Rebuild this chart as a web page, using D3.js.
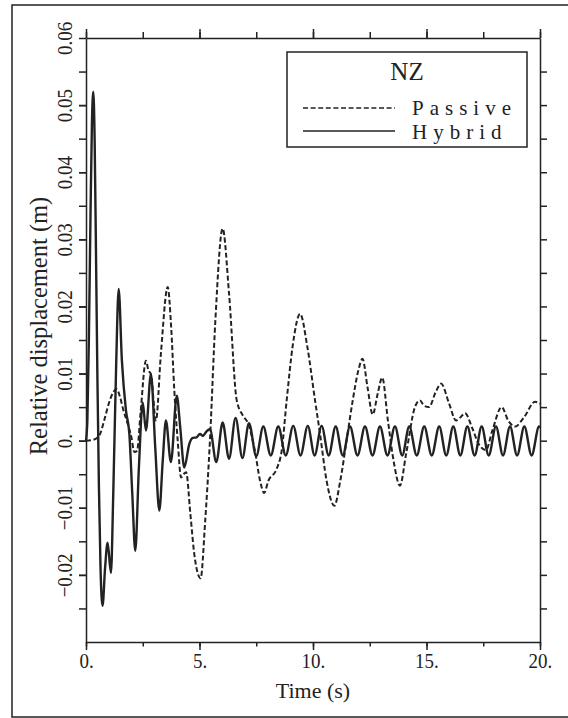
<!DOCTYPE html>
<html>
<head>
<meta charset="utf-8">
<script src="https://cdn.jsdelivr.net/npm/d3@7"></script>
<style>
  body { margin: 0; background: #fff; }
  svg { display: block; }
  text { font-family: "Liberation Serif", "Times New Roman", serif; fill: #222; }
</style>
</head>
<body>
<div id="chart"></div>
<script>
//-----------------------------------------------------------------------
// data

var hybridT = [0, 0.06, 0.13, 0.2, 0.26, 0.32, 0.38, 0.44, 0.5, 0.57, 0.64, 0.73, 0.84, 0.95, 1.1,
  1.2, 1.32, 1.44, 1.58, 1.76, 1.91, 2.04, 2.17, 2.33, 2.5, 2.64, 2.86, 3.05, 3.23, 3.38, 3.52,
  3.74, 4.0, 4.15, 4.33, 4.55, 4.7, 4.87, 5.02, 5.15, 5.31, 5.46,
  5.74, 6.02, 6.3, 6.59, 6.89, 7.18, 7.5, 7.81, 8.14, 8.47, 8.8, 9.13, 9.45, 9.77, 10.07, 10.38,
  10.69, 11.0, 11.31, 11.63, 11.96, 12.29, 12.62, 12.95, 13.28, 13.61, 13.93, 14.24, 14.57, 14.9,
  15.23, 15.56, 15.87, 16.18, 16.49, 16.8, 17.12, 17.43, 17.74, 18.06, 18.37, 18.68, 18.99, 19.31,
  19.63, 19.96, 20];
var hybridV = [0, 0.003, 0.016, 0.034, 0.047, 0.052, 0.045, 0.028, 0.01, -0.007, -0.019, -0.0246, -0.019, -0.0152, -0.0197,
  -0.008, 0.01, 0.0226, 0.012, 0.0045, 0.001, -0.008, -0.0164, -0.004, 0.0057, 0.0015, 0.00995, -0.001, -0.0104, -0.003, 0.003,
  -0.0032, 0.0067, 0.002, -0.004, -0.0005, 0.0004, 0.0005, 0.001, 0.0007, 0.0014, 0.0017,
  -0.0032, 0.0027, -0.0027, 0.0034, -0.0026, 0.0026, -0.0023, 0.0021, -0.0022, 0.0021, -0.0022, 0.0022, -0.0022, 0.0022, -0.0022, 0.0022,
  -0.0022, 0.0021, -0.0022, 0.0021, -0.0022, 0.0021, -0.0022, 0.0021, -0.0022, 0.0021, -0.0022, 0.0021, -0.0022, 0.0021,
  -0.0022, 0.0021, -0.0022, 0.0021, -0.0022, 0.0021, -0.0022, 0.0021, -0.0022, 0.0021, -0.0022, 0.0021, -0.0022, 0.0021,
  -0.0022, 0.0021, 0.0019];

var passiveT = [0, 0.3, 0.59, 0.8, 1.0, 1.2, 1.35, 1.5, 1.65, 1.84, 2.0, 2.13, 2.25, 2.4, 2.64, 2.75,
  2.86, 3.08, 3.3, 3.6, 3.75, 3.89, 4.04, 4.19, 4.3, 4.41, 4.6, 4.77, 5.05, 5.25, 5.46, 5.7, 6.02,
  6.3, 6.64, 6.9, 7.15, 7.44, 7.67, 7.85, 8.03, 8.4, 8.62, 8.84, 9.1, 9.43, 9.75, 10.09, 10.31,
  10.6, 10.94, 11.2, 11.5, 11.75, 12.0, 12.18, 12.4, 12.63, 12.85, 13.05, 13.3, 13.55, 13.83,
  14.1, 14.49, 14.71, 14.9, 15.11, 15.4, 15.64, 16.0, 16.3, 16.5, 16.7, 17.0, 17.3, 17.62, 17.9,
  18.31, 18.6, 18.9, 19.3, 19.78, 20];
var passiveV = [0, 0.0001, 0.0008, 0.003, 0.0055, 0.0072, 0.0077, 0.0065, 0.0045, 0.0025, 0.0005, -0.0017, -0.0015, 0.004, 0.0119, 0.0105,
  0.0099, 0.003, 0.013, 0.0229, 0.017, 0.0075, 0.0, -0.0055, -0.005, -0.0047, -0.011, -0.0169, -0.0205, -0.012, 0.0, 0.018, 0.0316,
  0.022, 0.006, 0.0038, 0.0025, -0.0015, -0.006, -0.0078, -0.006, -0.0042, -0.0015, 0.006, 0.014, 0.0189, 0.014, 0.006, 0.001,
  -0.006, -0.0097, -0.006, 0.0005, 0.006, 0.0105, 0.0122, 0.008, 0.0039, 0.007, 0.0094, 0.003, -0.003, -0.0067,
  -0.002, 0.005, 0.006, 0.0052, 0.005, 0.0072, 0.0085, 0.0055, 0.003, 0.0035, 0.0041, 0.002, -0.0005, -0.0014, 0.0015,
  0.005, 0.003, 0.0021, 0.0035, 0.0058, 0.0055];

var xMajor = [0, 5, 10, 15, 20];
var xMinor = [0, 2.5, 5, 7.5, 10, 12.5, 15, 17.5, 20];
var yMajor = [-0.02, -0.01, 0, 0.01, 0.02, 0.03, 0.04, 0.05, 0.06];
var yMinor = [-0.025, -0.02, -0.015, -0.01, -0.005, 0, 0.005, 0.01, 0.015, 0.02, 0.025, 0.03, 0.035, 0.04, 0.045, 0.05, 0.055];

var legendTitle = "NZ";
var seriesNames = ["Passive", "Hybrid"];

//-----------------------------------------------------------------------

var W = 568, H = 718;
var plotL = 86, plotR = 540, plotT = 38, plotB = 642;
var ink = "#222";

var svg = d3.select("#chart").append("svg").attr("width", W).attr("height", H);

// outer frame (right side runs off the page)
svg.append("rect")
  .attr("x", 12).attr("y", 5).attr("width", 600).attr("height", 712)
  .attr("fill", "none").attr("stroke", ink).attr("stroke-width", 1.5);

var x = d3.scaleLinear().domain([0, 20]).range([plotL, plotR]);
var y = d3.scaleLinear().domain([-0.03, 0.06]).range([plotB, plotT]);

function fmt(d)
{
  if (d === 0) return "0.";
  if (Number.isInteger(d)) return d + ".";
  return d3.format(".2f")(d);
}

function styleAxis(g)
{
  g.selectAll("path, line").attr("stroke", ink).attr("stroke-width", 1.5);
  g.selectAll("text").style("font-size", "19px").attr("fill", ink);
}

// bottom axis
svg.append("g").attr("transform", "translate(0," + plotB + ")")
  .call(d3.axisBottom(x).tickValues(xMinor).tickSize(4.5).tickSizeOuter(0).tickFormat(""))
  .call(styleAxis);
svg.append("g").attr("transform", "translate(0," + plotB + ")")
  .call(d3.axisBottom(x).tickValues(xMajor).tickSize(8).tickSizeOuter(0).tickFormat(fmt).tickPadding(8))
  .call(styleAxis)
  .call(function (g) {
    g.select(".domain").remove();
    // glyphs in the scan are a bit taller than wide
    g.selectAll("text").attr("dy", 0).attr("y", 0)
      .attr("transform", "translate(0,26) scale(1,1.15)");
  });

// top axis
svg.append("g").attr("transform", "translate(0," + plotT + ")")
  .call(d3.axisTop(x).tickValues(xMinor).tickSize(6).tickSizeOuter(0).tickFormat(""))
  .call(styleAxis);
svg.append("g").attr("transform", "translate(0," + plotT + ")")
  .call(d3.axisTop(x).tickValues(xMajor).tickSize(9).tickSizeOuter(0).tickFormat(""))
  .call(styleAxis)
  .call(function (g) { g.select(".domain").remove(); });

// left axis with rotated labels
svg.append("g").attr("transform", "translate(" + plotL + ",0)")
  .call(d3.axisLeft(y).tickValues(yMinor).tickSize(7).tickSizeOuter(0).tickFormat(""))
  .call(styleAxis);
svg.append("g").attr("transform", "translate(" + plotL + ",0)")
  .call(d3.axisLeft(y).tickValues(yMajor).tickSize(7).tickSizeOuter(0).tickFormat(fmt))
  .call(styleAxis)
  .call(function (g) {
    g.select(".domain").remove();
    g.selectAll("text")
      .attr("transform", "translate(-14,0) rotate(-90) scale(1,1.15)")
      .attr("x", 0).attr("y", 0).attr("dy", 0)
      .attr("text-anchor", "middle");
  });

// right axis
svg.append("g").attr("transform", "translate(" + plotR + ",0)")
  .call(d3.axisRight(y).tickValues(yMinor).tickSize(7).tickSizeOuter(0).tickFormat(""))
  .call(styleAxis);

// axis titles
svg.append("text")
  .attr("x", (plotL + plotR) / 2).attr("y", 698)
  .attr("text-anchor", "middle").style("font-size", "22px")
  .text("Time (s)");

svg.append("text")
  .attr("transform", "translate(47,326) rotate(-90)")
  .attr("text-anchor", "middle").style("font-size", "24.5px")
  .text("Relative displacement (m)");

//-----------------------------------------------------------------------
// curves

var line = d3.line()
  .x(function (d) { return x(d[0]); })
  .y(function (d) { return y(d[1]); })
  .curve(d3.curveMonotoneX);

var passive = d3.zip(passiveT, passiveV);
var hybrid = d3.zip(hybridT, hybridV);

svg.append("path").datum(passive)
  .attr("d", line).attr("fill", "none")
  .attr("stroke", ink).attr("stroke-width", 2)
  .attr("stroke-dasharray", "5,2.6");

svg.append("path").datum(hybrid)
  .attr("d", line).attr("fill", "none")
  .attr("stroke", ink).attr("stroke-width", 2.4)
  .attr("stroke-linejoin", "round");

//-----------------------------------------------------------------------
// legend

var lg = svg.append("g");
lg.append("rect")
  .attr("x", 287).attr("y", 52).attr("width", 240).attr("height", 95)
  .attr("fill", "#fff").attr("stroke", ink).attr("stroke-width", 1.5);

lg.append("text")
  .attr("x", 407).attr("y", 80).attr("text-anchor", "middle")
  .style("font-size", "25px")
  .text(legendTitle);

var rows = [
  { name: seriesNames[0], dash: "5,2.6", ly: 108, ty: 115 },
  { name: seriesNames[1], dash: null, ly: 131, ty: 139 }
];

rows.forEach(function (r) {
  lg.append("line")
    .attr("x1", 303).attr("x2", 395).attr("y1", r.ly).attr("y2", r.ly)
    .attr("stroke", ink).attr("stroke-width", 1.7)
    .attr("stroke-dasharray", r.dash);
  lg.append("text")
    .attr("x", 412).attr("y", r.ty)
    .style("font-size", "21px").style("letter-spacing", "6px")
    .text(r.name);
});
</script>
</body>
</html>
